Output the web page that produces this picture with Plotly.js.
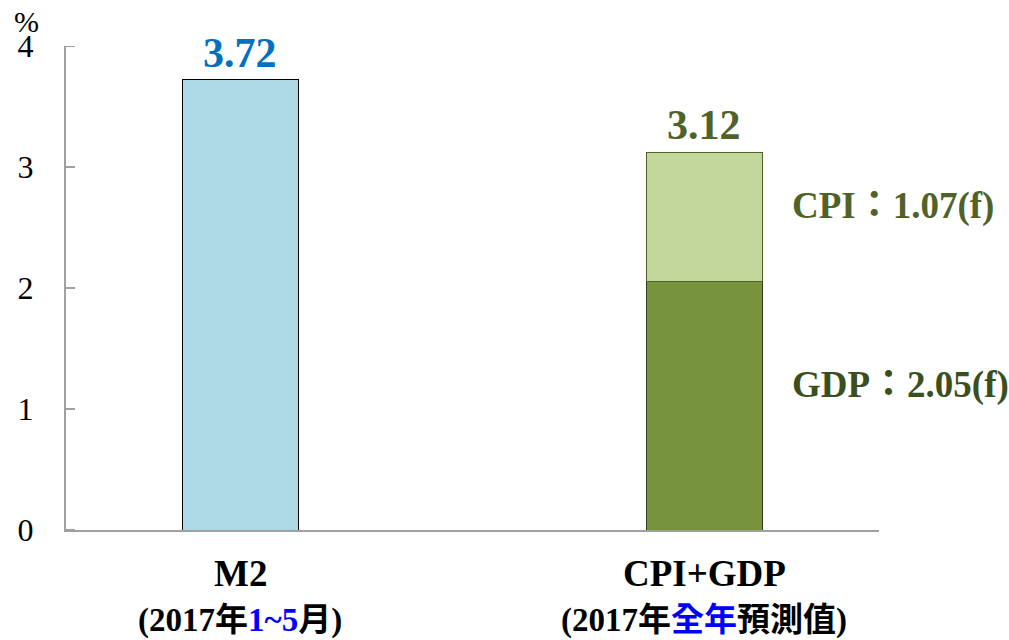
<!DOCTYPE html>
<html><head><meta charset="utf-8">
<script src="https://cdn.plot.ly/plotly-3.0.1.min.js"></script>
<style>html,body{margin:0;padding:0;background:#fff}#c{width:1009px;height:640px}</style>
</head><body><div id="c"></div>
<script>
const categories = ['M2', 'CPI+GDP'];
const catPos = [0, 1];
const m2Value = [3.72];
const gdpValue = [2.05];
const cpiValue = [1.07];
const totalLabels = ['3.72', '3.12'];
const yTicks = [0, 1, 2, 3, 4];

const serif = '"Liberation Serif", "Times New Roman", serif';
const cjk = '"Liberation Serif", "Noto Sans CJK TC", serif';

const traces = [
  {type:'bar', x:[catPos[0]], y:m2Value, width:0.25,
   marker:{color:'#ADD8E6', line:{color:'#000000', width:1}}, hoverinfo:'skip'},
  {type:'bar', x:[catPos[1]], y:gdpValue, width:0.25,
   marker:{color:'#77933C', line:{color:'#2F3B1A', width:1}}, hoverinfo:'skip'},
  {type:'bar', x:[catPos[1]], y:cpiValue, width:0.25,
   marker:{color:'#C3D69B', line:{color:'#4F6228', width:1}}, hoverinfo:'skip'}
];

const total2 = gdpValue[0] + cpiValue[0];
const annotations = [
  {x:catPos[0], y:m2Value[0], yanchor:'bottom', yshift:2, showarrow:false,
   text:'<b>'+totalLabels[0]+'</b>', font:{family:serif, size:42, color:'#0070C0'}},
  {x:catPos[1], y:total2, yanchor:'bottom', yshift:2, showarrow:false,
   text:'<b>'+totalLabels[1]+'</b>', font:{family:serif, size:42, color:'#4F6228'}},
  {x:catPos[1], y:gdpValue[0] + cpiValue[0]*0.59, xshift:86, xanchor:'left', showarrow:false,
   text:'<b>CPI：'+cpiValue[0].toFixed(2)+'(f)</b>', font:{family:cjk, size:37, color:'#4F6228'}},
  {x:catPos[1], y:gdpValue[0]*0.585, xshift:86, xanchor:'left', showarrow:false,
   text:'<b>GDP：'+gdpValue[0].toFixed(2)+'(f)</b>', font:{family:cjk, size:37, color:'#3B4F1E'}},
  {x:catPos[0], y:0, yref:'y', yanchor:'top', yshift:-21, showarrow:false,
   text:'<b>'+categories[0]+'</b>', font:{family:serif, size:37, color:'#000'}},
  {x:catPos[1], y:0, yref:'y', yanchor:'top', yshift:-21, showarrow:false,
   text:'<b>'+categories[1]+'</b>', font:{family:serif, size:37, color:'#000'}},
  {x:catPos[0], y:0, yref:'y', yanchor:'top', yshift:-70, showarrow:false,
   text:'<b>(2017年<span style="color:#0000FF">1~5</span>月)</b>', font:{family:cjk, size:33, color:'#000'}},
  {x:catPos[1], y:0, yref:'y', yanchor:'top', yshift:-70, showarrow:false,
   text:'<b>(2017年<span style="color:#0000FF">全年</span>預測值)</b>', font:{family:cjk, size:33, color:'#000'}},
  {xref:'paper', yref:'paper', x:-0.049, y:1.0496, yanchor:'middle', xanchor:'center', showarrow:false,
   text:'%', font:{family:serif, size:30, color:'#000'}}
];

const shapes = yTicks.map(v => ({type:'line', xref:'paper', yref:'y', x0:0, x1:0.011, y0:v, y1:v,
  line:{color:'#A0A0A0', width:2}}));

const layout = {
  width:1009, height:640,
  margin:{l:66, r:130, t:46, b:110},
  paper_bgcolor:'#fff', plot_bgcolor:'#fff',
  barmode:'stack', showlegend:false,
  xaxis:{range:[-0.375, 1.377], showgrid:false, zeroline:false, showticklabels:false,
         showline:true, linecolor:'#A0A0A0', linewidth:2, ticks:'', fixedrange:true},
  yaxis:{range:[0,4], tickvals:yTicks, ticktext:yTicks.map(String), showgrid:false, zeroline:false,
         showline:true, linecolor:'#A0A0A0', linewidth:2, ticks:'inside', ticklen:9, tickwidth:2,
         tickcolor:'#A0A0A0', ticklabelstandoff:24, tickfont:{family:serif, size:32, color:'#000'}, fixedrange:true},
  shapes:shapes,
  annotations:annotations
};

Plotly.newPlot('c', traces, layout, {displayModeBar:false, staticPlot:true});
</script></body></html>
